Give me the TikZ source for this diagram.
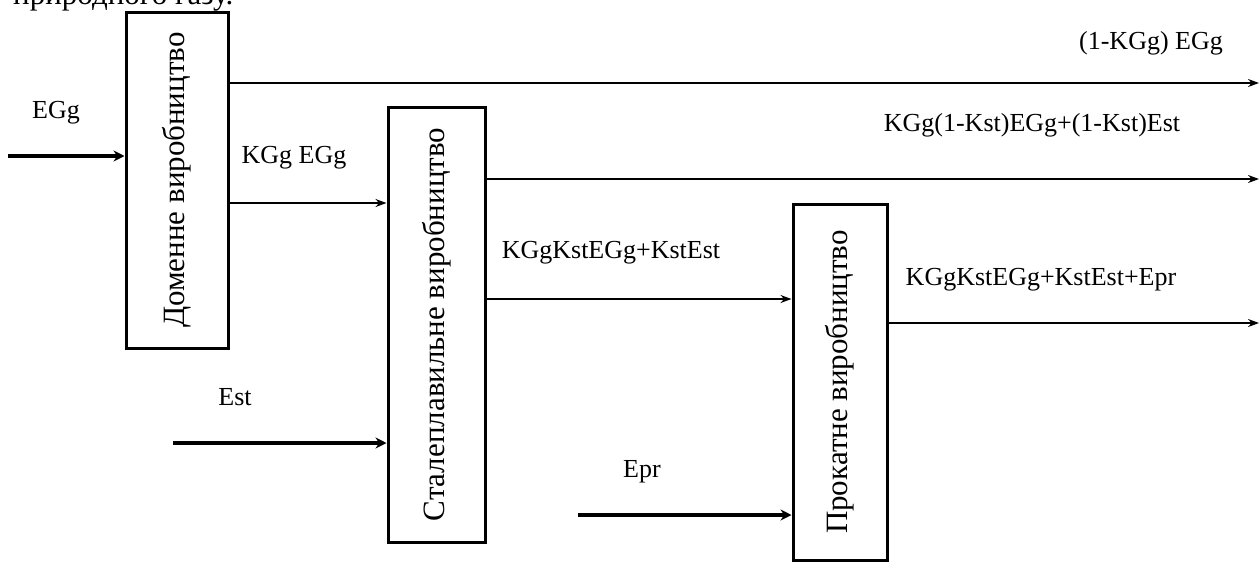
\documentclass[tikz,border=0pt]{standalone}
\usepackage{fontspec}
\setmainfont{Liberation Serif}
\usetikzlibrary{arrows.meta}
\tikzset{
  procbox/.style={draw, line width=3pt, inner sep=0pt, font=\fontsize{31}{34}\selectfont},
  thinflow/.style={line width=1.5pt, -{Stealth[length=11pt,width=8pt]}},
  thickflow/.style={line width=4pt, -{Stealth[length=11pt,width=11pt]}},
  lbl/.style={inner sep=0pt, font=\fontsize{26}{30}\selectfont},
}
\begin{document}
\begin{tikzpicture}[x=1pt,y=-1pt]
\useasboundingbox (0,0) rectangle (1260,563);
\begin{scope}
\clip (0,0) rectangle (1260,563);
\node[anchor=base west, inner sep=0pt, font=\fontsize{31}{34}\selectfont] (cut) at (13,4) {природного газу.};
\end{scope}
% boxes
\node[procbox, minimum width=102pt, minimum height=336pt] (b1) at (177,180) {\rotatebox{90}{Доменне виробництво}};
\node[procbox, minimum width=97pt, minimum height=435pt] (b2) at (436.5,324.5) {\rotatebox{90}{Сталеплавильне виробництво}};
\node[procbox, minimum width=94pt, minimum height=356pt] (b3) at (840,382) {\rotatebox{90}{Прокатне виробництво}};
% free ends
\coordinate (in1) at (8,156);
\coordinate (in2) at (173,443);
\coordinate (in3) at (578,515);
\coordinate (o1) at (1259,83);
\coordinate (o2) at (1259,179);
\coordinate (o3) at (1259,323);
% inputs
\draw[thickflow] (in1) -- (b1.west |- in1);
\draw[thickflow] (in2) -- (b2.west |- in2);
\draw[thickflow] (in3) -- (b3.west |- in3);
% outputs
\draw[thinflow] (b1.east |- o1) -- (o1);
\draw[thinflow] (b2.east |- o2) -- (o2);
\draw[thinflow] (b3.east |- o3) -- (o3);
% between boxes
\draw[thinflow] (b1.east |- 0,203) -- (b2.west |- 0,203);
\draw[thinflow] (b2.east |- 0,299) -- (b3.west |- 0,299);
% labels
\node[lbl] (lEGg) at (56,113) {EGg};
\node[lbl] (lKE) at (294,158) {KGg EGg};
\node[lbl] (lo1) at (1151,43) {(1-KGg) EGg};
\node[lbl] (lo2) at (1032,125) {KGg(1-Kst)EGg+(1-Kst)Est};
\node[lbl] (lmid) at (611,253) {KGgKstEGg+KstEst};
\node[lbl] (lo3) at (1041,280) {KGgKstEGg+KstEst+Epr};
\node[lbl] (lEst) at (235,397) {Est};
\node[lbl] (lEpr) at (642,472) {Epr};
\end{tikzpicture}
\end{document}
